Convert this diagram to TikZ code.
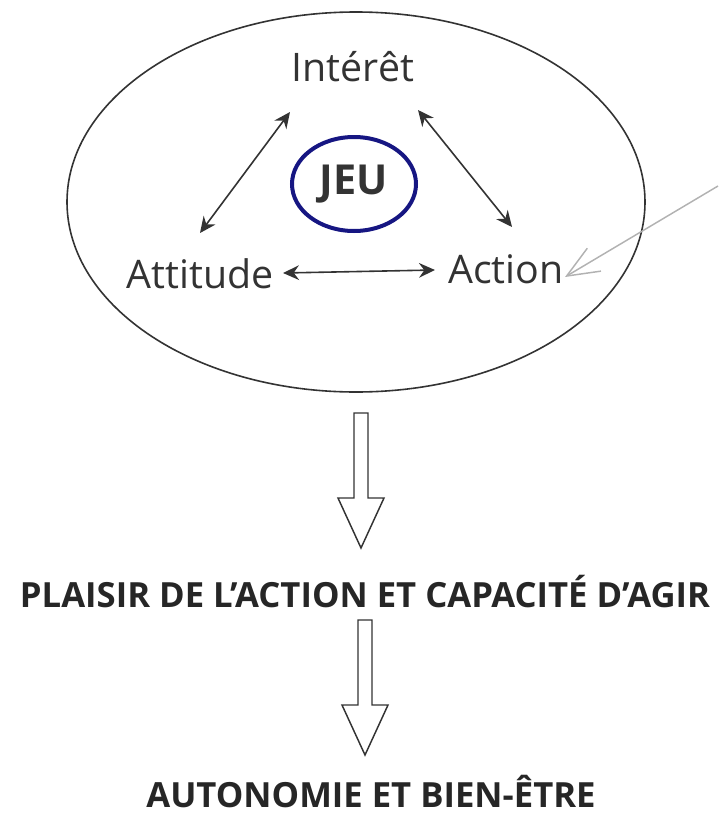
\documentclass[tikz,border=0pt]{standalone}
\usepackage{fontspec}
\setmainfont{Open Sans}
\usepackage{tikz}
\definecolor{inkgray}{gray}{0.2}
\definecolor{jeublue}{RGB}{22,22,130}
\definecolor{pointgray}{gray}{0.7}
\usetikzlibrary{arrows.meta, positioning, shapes, calc}
\tikzstyle{word} = [inner sep=0pt, anchor=base, text=inkgray, font=\fontsize{29.5}{34}\selectfont]
\tikzstyle{caption} = [inner sep=0pt, anchor=base, text=black!85, font=\bfseries\fontsize{26}{30}\selectfont]
\tikzstyle{link} = [<->, inkgray, line width=1.2pt]
\tikzstyle{pointer} = [-{Straight Barb[length=24pt, width=20pt]}, pointgray, line width=1.1pt]
\tikzstyle{hollow} = [draw=inkgray, line width=1.1pt, fill=white]
\tikzset{downarrow/.pic={\draw [hollow] (-7,0) -- (-7,85) -- (-23,85) -- (0,135) -- (23,85) -- (7,85) -- (7,0) -- cycle;}}

\begin{document}
\begin{tikzpicture}[x=0.75pt, y=-0.75pt, >={Stealth[length=12pt, width=11pt, inset=4pt]}]
    \useasboundingbox (0,0) rectangle (718,814);

    % Place the loop
    \node [draw=inkgray, line width=1.2pt, ellipse, minimum width=433.5pt, minimum height=285pt] (loop) at (356,202) {};
    \node [word] (interet) at (353,81) {Intérêt};
    \node [word] (attitude) at (200,288) {Attitude};
    \node [word] (action) at (506,283) {Action};
    \node [draw=jeublue, line width=3pt, ellipse, minimum width=93pt, minimum height=70.5pt, inner sep=0pt,
           text=inkgray, font=\bfseries\fontsize{31}{36}\selectfont] (jeu) at (354,184) {JEU};
    \coordinate (source) at (718,186);

    % Place the outcomes
    \node [caption] (plaisir) at (365,607) {PLAISIR DE L’ACTION ET CAPACITÉ D’AGIR};
    \node [caption] (autonomie) at (371,807) {AUTONOMIE ET BIEN-ÊTRE};

    % Connect the nodes
    \draw [link] ($(attitude.base)+(0,-55)$) -- ($(interet.base)+(-63,31)$);
    \draw [link] ($(interet.base)+(65,29)$) -- ($(action.base)+(6,-56)$);
    \draw [link] ($(attitude.base)+(83,-15)$) -- ($(action.base)+(-71,-13)$);
    \draw [pointer] (source) -- ($(action.base)+(59,-6)$);

    % Hollow arrows down
    \pic at (361,413) {downarrow};
    \pic at (365,620) {downarrow};
\end{tikzpicture}
\end{document}
